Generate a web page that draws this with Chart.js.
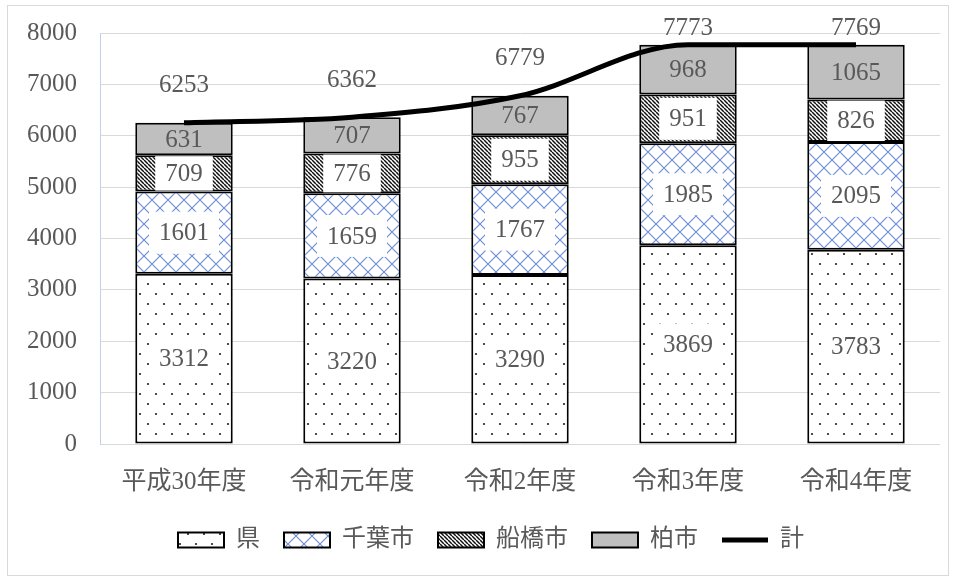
<!DOCTYPE html>
<html>
<head>
<meta charset="utf-8">
<script src="https://cdn.jsdelivr.net/npm/chart.js@4.4.1/dist/chart.umd.min.js"></script>
<style>
  html, body { margin: 0; padding: 0; background: #fff; }
  #wrap { position: relative; width: 958px; height: 581px; }
  #frame { position: absolute; left: 7px; top: 5px; width: 942px; height: 571px; border: 1px solid #D9D9D9; box-sizing: border-box; }
  #c { position: absolute; left: 0; top: 0; }
</style>
</head>
<body>
<div id="wrap">
  <div id="frame"></div>
  <canvas id="c" width="958" height="581"></canvas>
</div>
<script>
// ---- data ----
const categories = ['平成30年度', '令和元年度', '令和2年度', '令和3年度', '令和4年度'];
const kenValues = [3312, 3220, 3290, 3869, 3783];
const chibaValues = [1601, 1659, 1767, 1985, 2095];
const funabashiValues = [709, 776, 955, 951, 826];
const kashiwaValues = [631, 707, 767, 968, 1065];
const totalValues = [6253, 6362, 6779, 7773, 7769];
const seriesNames = ['県', '千葉市', '船橋市', '柏市', '計'];
const yTicks = [0, 1000, 2000, 3000, 4000, 5000, 6000, 7000, 8000];

// ---- patterns ----
function makePattern(w, h, draw) {
  const cv = document.createElement('canvas');
  cv.width = w; cv.height = h;
  const g = cv.getContext('2d');
  g.fillStyle = '#ffffff';
  g.fillRect(0, 0, w, h);
  draw(g);
  return document.getElementById('c').getContext('2d').createPattern(cv, 'repeat');
}
const dotPattern = makePattern(16, 20, g => {
  g.fillStyle = '#222';
  g.beginPath(); g.arc(4, 4, 1.1, 0, Math.PI * 2); g.fill();
  g.beginPath(); g.arc(12, 14, 1.1, 0, Math.PI * 2); g.fill();
});
const crossPattern = makePattern(16, 16, g => {
  g.strokeStyle = '#6E8FD6';
  g.lineWidth = 1.2;
  g.beginPath();
  g.moveTo(0, 0); g.lineTo(16, 16);
  g.moveTo(16, 0); g.lineTo(0, 16);
  g.stroke();
});
const stripePattern = makePattern(4, 4, g => {
  g.strokeStyle = '#111';
  g.lineWidth = 1.5;
  g.beginPath();
  for (const k of [-4, 0, 4]) { g.moveTo(k, 0); g.lineTo(k + 4, 4); }
  g.stroke();
});

const FONT = "'Liberation Serif', 'Noto Sans CJK JP', serif";
const TEXT = '#595959';
const FS = 25;

// ---- label plugin ----
const labelPlugin = {
  id: 'segLabels',
  afterLayout(chart) {
    // shift legend row slightly right to match reference placement
    if (chart.legend) { chart.legend.left += 21; chart.legend.right += 21; }
  },
  afterDatasetsDraw(chart) {
    const ctx = chart.ctx;
    ctx.save();
    ctx.font = FS + 'px ' + FONT;
    ctx.textAlign = 'center';
    ctx.textBaseline = 'middle';
    chart.data.datasets.forEach((ds, di) => {
      const meta = chart.getDatasetMeta(di);
      if (meta.type === 'bar') {
        meta.data.forEach((el, i) => {
          const p = el.getProps(['x', 'y', 'base', 'width'], true);
          const top = Math.min(p.y, p.base), bot = Math.max(p.y, p.base);
          const cy = (top + bot) / 2;
          const txt = String(ds.data[i]);
          if (ds.labelBox) {
            const tw = ctx.measureText(txt).width + 20;
            const bh = 42;
            const y0 = Math.max(cy - bh / 2, top + 1);
            const y1 = Math.min(cy + bh / 2, bot - 1);
            ctx.fillStyle = '#ffffff';
            ctx.fillRect(p.x - tw / 2, y0, tw, y1 - y0);
          }
          ctx.fillStyle = TEXT;
          ctx.fillText(txt, p.x, cy + 1);
        });
      } else if (meta.type === 'line') {
        meta.data.forEach((el, i) => {
          const y = Math.max(el.y - 37, chart.chartArea.top - 5);
          ctx.fillStyle = TEXT;
          ctx.fillText(String(ds.data[i]), el.x, y);
        });
      }
    });
    ctx.restore();
  }
};

const barBase = { type: 'bar', borderColor: '#000', borderWidth: 2, borderSkipped: false,
  barPercentage: 0.58, categoryPercentage: 1.0, pointStyle: 'rect', stack: 's' };

new Chart(document.getElementById('c'), {
  data: {
    labels: categories,
    datasets: [
      Object.assign({}, barBase, { label: seriesNames[0], data: kenValues, backgroundColor: dotPattern, labelBox: true }),
      Object.assign({}, barBase, { label: seriesNames[1], data: chibaValues, backgroundColor: crossPattern, labelBox: true }),
      Object.assign({}, barBase, { label: seriesNames[2], data: funabashiValues, backgroundColor: stripePattern, labelBox: true }),
      Object.assign({}, barBase, { label: seriesNames[3], data: kashiwaValues, backgroundColor: '#BFBFBF', labelBox: false }),
      { type: 'line', label: seriesNames[4], data: totalValues, borderColor: '#000', backgroundColor: '#000',
        borderWidth: 5, pointRadius: 0, pointStyle: 'line', cubicInterpolationMode: 'monotone', order: -1, stack: 'total' }
    ]
  },
  options: {
    responsive: false,
    animation: false,
    devicePixelRatio: 1,
    layout: { padding: { top: 20, left: 0, right: 18, bottom: 19 } },
    plugins: {
      legend: {
        position: 'bottom',
        labels: {
          usePointStyle: true,
          pointStyleWidth: 46,
          boxHeight: 15,
          padding: 24,
          color: TEXT,
          font: { family: FONT, size: 24 },
          sort: (a, b) => a.datasetIndex - b.datasetIndex
        }
      },
      tooltip: { enabled: false }
    },
    scales: {
      x: {
        stacked: true,
        grid: { display: false, drawTicks: false },
        border: { display: false },
        ticks: { color: TEXT, font: { family: FONT, size: FS }, padding: 23 },
        afterFit: s => { s.height = 60; }
      },
      y: {
        stacked: true,
        min: 0, max: 8000,
        afterBuildTicks: s => { s.ticks = yTicks.map(v => ({ value: v })); },
        grid: { color: '#D9D9D9', lineWidth: 1, drawTicks: true, tickLength: 5, tickColor: 'rgba(0,0,0,0)' },
        border: { display: true, color: '#C5D0E6', width: 1 },
        ticks: { color: TEXT, font: { family: FONT, size: FS }, padding: 18, callback: v => String(v) },
        afterFit: s => { s.width = 100; }
      }
    }
  },
  plugins: [labelPlugin]
});
</script>
</body>
</html>
